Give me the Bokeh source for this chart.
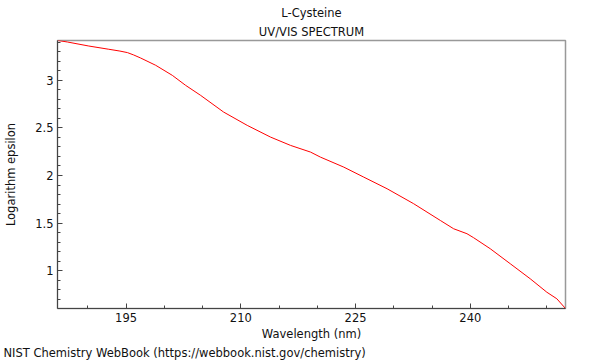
from bokeh.plotting import figure
from bokeh.models import Range1d, SingleIntervalTicker, Title, LinearAxis
from bokeh.embed import file_html
from bokeh.resources import INLINE

# Data
wavelength = [186.04, 186.2, 187.35, 190.13, 192.74, 194.2, 195.18, 196.0, 196.91,
              198.87, 201.05, 202.79, 204.75, 207.75, 210.84, 213.89, 216.50,
              219.11, 220.41, 223.46, 226.07, 229.12, 232.59, 236.08, 237.82,
              239.56, 240.43, 242.61, 245.22, 247.83, 250.0, 251.31, 252.44]
log_epsilon = [3.417, 3.416, 3.401, 3.359, 3.325, 3.306, 3.290, 3.265, 3.233,
               3.157, 3.051, 2.946, 2.841, 2.666, 2.526, 2.403, 2.316,
               2.246, 2.193, 2.088, 1.983, 1.861, 1.704, 1.528, 1.441,
               1.389, 1.347, 1.231, 1.074, 0.916, 0.775, 0.706, 0.604]

title_line1 = "L-Cysteine"
title_line2 = "UV/VIS SPECTRUM"
x_label = "Wavelength (nm)"
y_label = "Logarithm epsilon"
footer = "NIST Chemistry WebBook (https://webbook.nist.gov/chemistry)"

FONT = "DejaVu Sans"
FS = "11.5px"

p = figure(width=600, height=360, output_backend="svg", toolbar_location=None,
           x_range=Range1d(186.04, 252.44), y_range=Range1d(0.604, 3.417),
           min_border_left=57, min_border_right=35, min_border_top=40,
           min_border_bottom=52, x_axis_location=None, y_axis_location=None)
p.grid.visible = False
p.outline_line_color = "#999999"
p.outline_line_width = 1.5
p.background_fill_color = "white"
p.border_fill_color = "white"

xaxis = LinearAxis(ticker=SingleIntervalTicker(interval=15, num_minor_ticks=3),
                   axis_label=x_label)
yaxis = LinearAxis(ticker=SingleIntervalTicker(interval=0.5, num_minor_ticks=5),
                   axis_label=y_label)
for ax in (xaxis, yaxis):
    ax.major_tick_in = 5
    ax.major_tick_out = 0
    ax.minor_tick_in = 3
    ax.minor_tick_out = 0
    ax.axis_line_color = "#444444"
    ax.major_tick_line_color = "#444444"
    ax.minor_tick_line_color = "#444444"
    ax.major_label_text_font = FONT
    ax.major_label_text_font_size = FS
    ax.major_label_text_color = "#111111"
    ax.axis_label_text_font = FONT
    ax.axis_label_text_font_size = FS
    ax.axis_label_text_font_style = "normal"
    ax.axis_label_text_color = "#111111"
    ax.major_label_standoff = 4
    ax.axis_label_standoff = 2
yaxis.axis_label_standoff = 14
p.add_layout(xaxis, "below")
p.add_layout(yaxis, "left")

p.line(wavelength, log_epsilon, line_color="#ff0000", line_width=1)

for txt, so in ((title_line2, 4), (title_line1, 2)):
    p.add_layout(Title(text=txt, align="center", text_font=FONT,
                       text_font_size=FS, text_font_style="normal",
                       text_color="#111111", standoff=so), "above")
p.add_layout(Title(text=footer, align="left", offset=-54, text_font=FONT,
                   text_font_size=FS, text_font_style="normal",
                   text_color="#111111", standoff=0), "below")

open("out.html", "w").write(file_html(p, INLINE))
